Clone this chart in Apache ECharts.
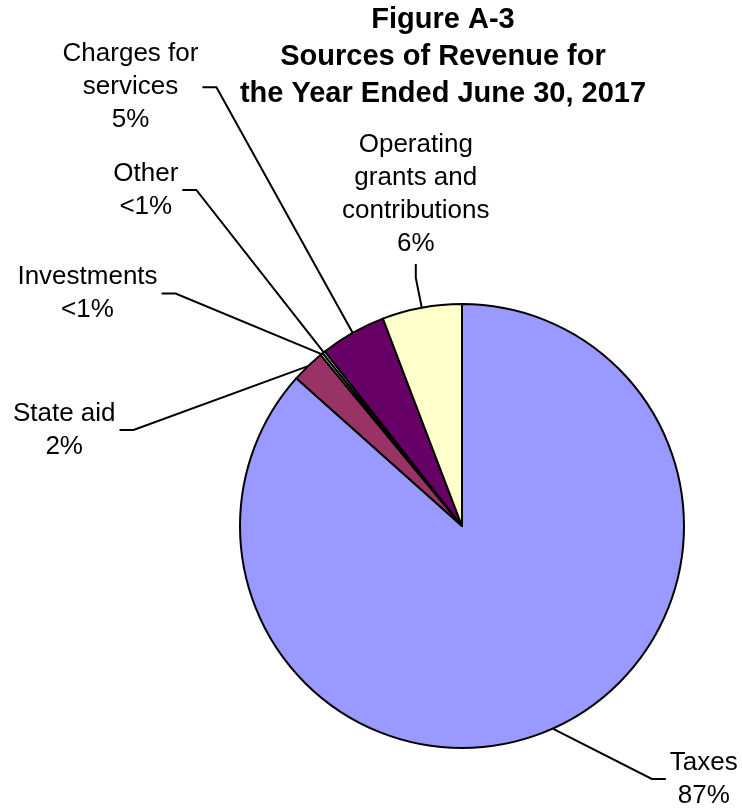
<!DOCTYPE html>
<html>
<head>
<meta charset="utf-8">
<script src="https://cdn.jsdelivr.net/npm/echarts@6/dist/echarts.min.js"></script>
<style>html,body{margin:0;padding:0;background:#fff;}#chart{width:742px;height:808px;}</style>
</head>
<body>
<div id="chart"></div>
<script>
// ---- data ----
const categories = ['Taxes', 'State aid', 'Investments', 'Other', 'Charges for services', 'Operating grants and contributions'];
const values = [86.6, 2.4, 0.2, 0.2, 4.8, 5.8];
const percentLabels = ['87%', '2%', '<1%', '<1%', '5%', '6%'];
const wrappedNames = ['Taxes', 'State aid', 'Investments', 'Other', 'Charges for\nservices', 'Operating\ngrants and\ncontributions'];
const colors = ['#9999FF', '#993366', '#FFFFCC', '#CCFFFF', '#660066', '#FFFFCC'];
const titleLines = ['Figure A-3', 'Sources of Revenue for', 'the Year Ended June 30, 2017'];

const family = '"Liberation Sans", Arial, Helvetica, sans-serif';

const chart = echarts.init(document.getElementById('chart'), null, {renderer: 'canvas'});

const labelPlaces = {
  0: [703.8, 779],
  1: [64.2, 430],
  2: [87.5, 293.5],
  3: [145.8, 190],
  4: [130.5, 87.3],
  5: [415.8, 194]
};

chart.setOption({
  animation: false,
  backgroundColor: '#ffffff',
  title: {
    text: titleLines.join('\n'),
    left: 443,
    top: 1,
    textAlign: 'center',
    padding: 0,
    textStyle: {
      fontFamily: family,
      fontWeight: 'bold',
      fontSize: 29,
      lineHeight: 37,
      color: '#000'
    }
  },
  series: [{
    type: 'pie',
    center: [462, 526],
    radius: 222,
    startAngle: 90,
    clockwise: true,
    avoidLabelOverlap: false,
    minAngle: 0,
    itemStyle: {borderColor: '#000', borderWidth: 2},
    emphasis: {disabled: true},
    label: {
      show: true,
      position: 'outside',
      fontFamily: family,
      fontSize: 26,
      lineHeight: 33,
      padding: 4,
      color: '#000',
      align: 'center',
      formatter: function (p) { return wrappedNames[p.dataIndex] + '\n' + percentLabels[p.dataIndex]; }
    },
    labelLine: {
      show: true,
      length: 10,
      length2: 14,
      smooth: false,
      lineStyle: {color: '#000', width: 2}
    },
    labelLayout: function (params) {
      const p = labelPlaces[params.dataIndex];
      return {x: p[0], y: p[1], align: 'center', verticalAlign: 'middle', hideOverlap: false};
    },
    data: categories.map(function (c, i) {
      return {name: c, value: values[i], itemStyle: {color: colors[i]}};
    })
  }]
});
</script>
</body>
</html>
